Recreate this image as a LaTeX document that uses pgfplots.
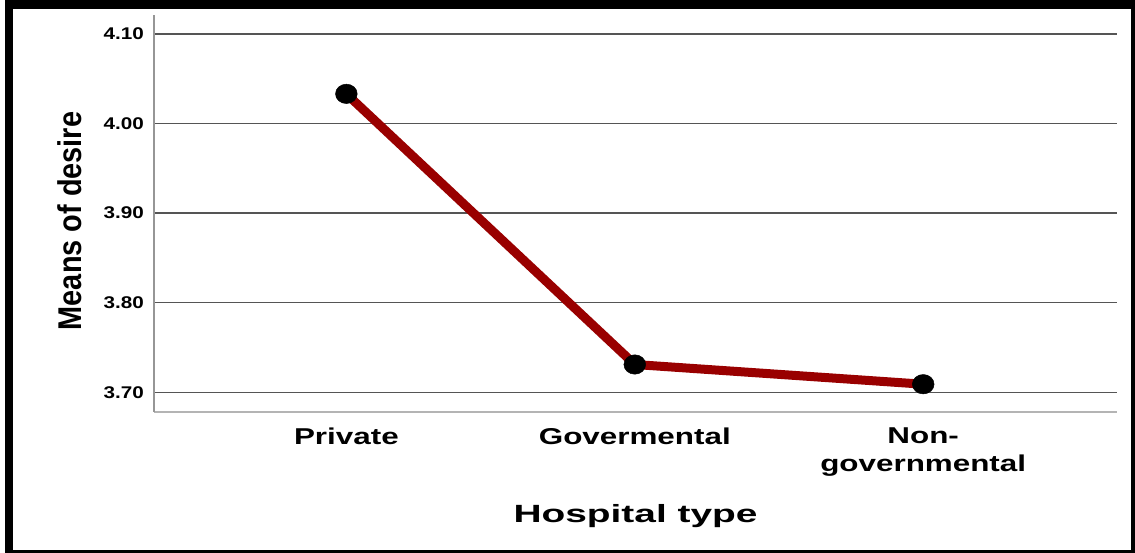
\documentclass[border=0pt]{standalone}
\usepackage{fontspec}
\setmainfont{Liberation Sans}
\usepackage{graphicx}
\usepackage{pgfplots}
\pgfplotsset{compat=1.18}
\definecolor{linered}{RGB}{153,0,0}
\definecolor{gridc}{RGB}{85,85,85}
\definecolor{ylinec}{RGB}{150,150,150}
\definecolor{xlinec}{RGB}{180,180,180}
\newcommand\tk[1]{\scalebox{1.22}[1]{#1}}
\newcommand\ct[1]{\scalebox{1.37}[1]{#1}}
\begin{document}
\begin{tikzpicture}[x=1bp,y=1bp]
\useasboundingbox (0,0) rectangle (1135,553);
\fill[white] (0,0) rectangle (1135,553);
\fill[black] (5,0) rectangle (1135,553);
\fill[white] (13,3) rectangle (1131,544);
\begin{axis}[
  at={(154bp,141bp)}, anchor=south west,
  width=963bp, height=397bp, scale only axis,
  xmin=-0.667, xmax=2.672, ymin=3.678, ymax=4.121,
  axis x line*=bottom, axis y line*=left,
  x axis line style={-, draw=xlinec, line width=2bp},
  y axis line style={-, draw=ylinec, line width=1.2bp},
  xtick={0,1,2},
  xticklabels={{\ct{Private}},{\ct{Govermental}},{\ct{Non-}\\\ct{governmental}}},
  ytick={3.7,3.8,3.9,4.0,4.1},
  yticklabels={{\tk{3.70}},{\tk{3.80}},{\tk{3.90}},{\tk{4.00}},{\tk{4.10}}},
  major tick length=0pt,
  ymajorgrids, grid style={draw=gridc, line width=1.5bp},
  xticklabel style={inner sep=0pt, align=center, font=\fontsize{23}{28}\selectfont\bfseries, anchor=north},
  xticklabel shift=16bp,
  yticklabel style={inner sep=0pt, font=\fontsize{17}{20}\selectfont\bfseries, anchor=east},
  yticklabel shift=10bp,
  clip=false,
]
\addplot[color=linered, line width=9bp, line join=round, mark=*, mark size=9.7bp,
  mark options={fill=black, draw=black, line width=0.5bp, xscale=1.12}]
  coordinates {(0,4.033) (1,3.731) (2,3.709)};
\end{axis}
\node[anchor=base, inner sep=0pt] at (635.5,30) {\fontsize{25}{30}\selectfont\bfseries\scalebox{1.56}[1]{Hospital type}};
\node[rotate=90, anchor=center, inner sep=0pt] at (70,332) {\fontsize{29}{34}\selectfont\bfseries\scalebox{1}[1.14]{Means of desire}};
\end{tikzpicture}
\end{document}
